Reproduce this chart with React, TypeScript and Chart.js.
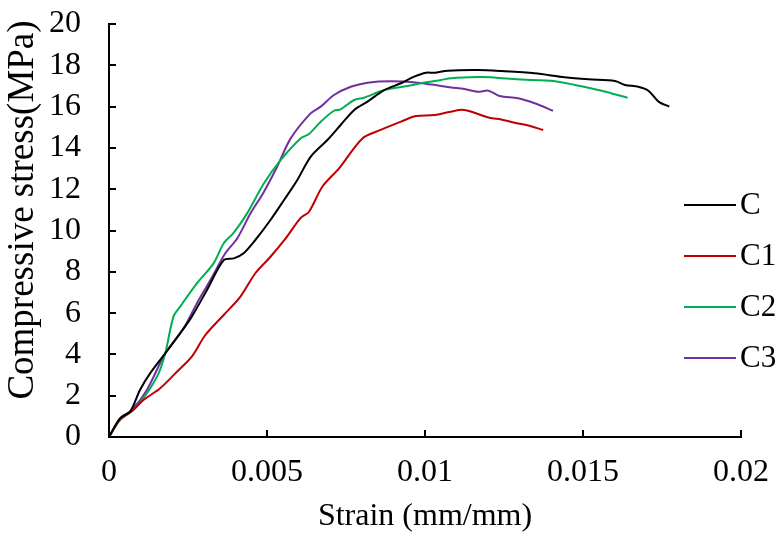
import React, { useEffect, useRef } from "react";
import { Chart, registerables } from "chart.js";

Chart.register(...registerables);

// ---- Data ----
const seriesLabels = ["C", "C1", "C2", "C3"];
const seriesColors = ["#000000", "#C00000", "#00B050", "#7030A0"];

const strainC = [0, 0.00035, 0.00067, 0.00098, 0.0013, 0.00178, 0.00225, 0.00262, 0.0031, 0.00363, 0.00395, 0.00426, 0.00463, 0.00511, 0.00555, 0.00596, 0.00638, 0.00691, 0.00733, 0.00776, 0.00818, 0.00871, 0.00924, 0.00966, 0.01003, 0.0103, 0.01072, 0.01167, 0.01241, 0.01347, 0.01442, 0.01517, 0.01601, 0.01633, 0.01675, 0.01707, 0.01739, 0.01773];
const stressC = [0, 0.9, 1.23, 2.28, 3.08, 4.05, 5.02, 5.83, 7.12, 8.57, 8.65, 8.9, 9.54, 10.51, 11.5, 12.45, 13.57, 14.38, 15.11, 15.84, 16.24, 16.8, 17.13, 17.45, 17.64, 17.64, 17.74, 17.77, 17.72, 17.61, 17.42, 17.32, 17.24, 17.05, 16.96, 16.77, 16.24, 16.0];

const strainC1 = [0, 0.00035, 0.00076, 0.00109, 0.00162, 0.00215, 0.00262, 0.00305, 0.00363, 0.00416, 0.00463, 0.00511, 0.00559, 0.00606, 0.00633, 0.00675, 0.00728, 0.00802, 0.0086, 0.00924, 0.00971, 0.0103, 0.01109, 0.01136, 0.01204, 0.01241, 0.01284, 0.01321, 0.01374];
const stressC1 = [0, 0.85, 1.3, 1.79, 2.36, 3.16, 3.89, 4.94, 5.91, 6.8, 7.93, 8.73, 9.62, 10.6, 10.91, 12.12, 13.01, 14.46, 14.87, 15.27, 15.54, 15.59, 15.84, 15.8, 15.46, 15.38, 15.22, 15.11, 14.87];

const strainC2 = [0, 0.00035, 0.00077, 0.0012, 0.00157, 0.00178, 0.00204, 0.00225, 0.00278, 0.00331, 0.00363, 0.00395, 0.00437, 0.0049, 0.00543, 0.00606, 0.00633, 0.0067, 0.00712, 0.00733, 0.00776, 0.00807, 0.00871, 0.00945, 0.00987, 0.01051, 0.01083, 0.01167, 0.0121, 0.01241, 0.01337, 0.014, 0.01474, 0.01559, 0.01641];
const stressC2 = [0, 0.82, 1.31, 2.12, 3.08, 4.05, 5.83, 6.31, 7.44, 8.41, 9.38, 9.9, 10.83, 12.28, 13.41, 14.46, 14.67, 15.27, 15.8, 15.87, 16.32, 16.43, 16.8, 17.0, 17.13, 17.29, 17.37, 17.43, 17.42, 17.37, 17.29, 17.25, 17.05, 16.77, 16.43];

const strainC3 = [0, 0.00035, 0.00072, 0.0012, 0.00178, 0.00236, 0.00278, 0.00321, 0.00368, 0.00405, 0.00448, 0.0049, 0.00532, 0.00575, 0.00638, 0.0067, 0.00712, 0.00765, 0.00818, 0.00892, 0.00977, 0.01051, 0.01083, 0.01125, 0.01167, 0.01201, 0.01236, 0.01294, 0.01347, 0.01405];
const stressC3 = [0, 0.9, 1.31, 2.28, 4.05, 5.26, 6.47, 7.6, 8.9, 9.6, 10.83, 11.87, 13.09, 14.46, 15.67, 16.0, 16.56, 16.96, 17.16, 17.23, 17.16, 17.0, 16.93, 16.85, 16.72, 16.77, 16.51, 16.4, 16.16, 15.8];

const xTickLabels = ["0", "0.005", "0.01", "0.015", "0.02"];
const xTitle = "Strain (mm/mm)";
const yTitle = "Compressive stress(MPa)";

const strains = [strainC, strainC1, strainC2, strainC3];
const stresses = [stressC, stressC1, stressC2, stressC3];

const FONT = '"Liberation Serif", "Times New Roman", serif';

const overlayPlugin = {
  id: "overlay",
  afterDraw(chart: any) {
    const ctx = chart.ctx;
    ctx.save();
    // legend
    chart.data.datasets.forEach((ds: any, i: number) => {
      const y = 205 + i * 51;
      ctx.strokeStyle = ds.borderColor;
      ctx.lineWidth = 2;
      ctx.beginPath();
      ctx.moveTo(684, y);
      ctx.lineTo(736, y);
      ctx.stroke();
      ctx.fillStyle = "#000";
      ctx.font = `31px ${FONT}`;
      ctx.textAlign = "left";
      ctx.textBaseline = "middle";
      ctx.fillText(ds.label, 740, y + 1);
    });
    // y-axis title
    ctx.translate(23, 210);
    ctx.rotate(-Math.PI / 2);
    ctx.font = `37px ${FONT}`;
    ctx.textAlign = "center";
    ctx.textBaseline = "middle";
    ctx.fillStyle = "#000";
    ctx.fillText(yTitle, 0, 0);
    ctx.restore();
  },
};

export default function App() {
  const ref = useRef<HTMLCanvasElement>(null);
  useEffect(() => {
    if (!ref.current) return;
    const datasets = seriesLabels.map((label, i) => ({
      label,
      data: strains[i].map((x, j) => ({ x, y: stresses[i][j] })),
      borderColor: seriesColors[i],
      backgroundColor: seriesColors[i],
      borderWidth: 2,
      pointRadius: 0,
      tension: 0.3,
      fill: false,
    }));
    const chart = new Chart(ref.current, {
      type: "line",
      data: { datasets },
      options: {
        animation: false,
        responsive: false,
        layout: { padding: { top: 24, right: 40, left: 0, bottom: 0 } },
        plugins: { legend: { display: false }, tooltip: { enabled: false } },
        scales: {
          x: {
            type: "linear",
            min: 0,
            max: 0.02,
            afterFit: (s: any) => {
              s.height = 99;
              s.paddingLeft = 0;
              s.paddingRight = 0;
            },
            border: { display: true, color: "#000", width: 2 },
            grid: { drawOnChartArea: false, drawTicks: true, tickLength: -7, color: "#000", lineWidth: 2 },
            ticks: {
              stepSize: 0.005,
              padding: 23,
              color: "#000",
              autoSkip: false,
              font: { family: FONT, size: 32 },
              maxRotation: 0,
              callback: (_v: any, i: number) => xTickLabels[i],
            },
            title: {
              display: true,
              text: xTitle,
              color: "#000",
              font: { family: FONT, size: 32 },
              padding: { top: 0, bottom: 0 },
            },
          },
          y: {
            min: 0,
            max: 20,
            afterFit: (s: any) => {
              s.width = 109;
              s.paddingTop = 0;
              s.paddingBottom = 0;
            },
            border: { display: true, color: "#000", width: 2 },
            grid: { drawOnChartArea: false, drawTicks: true, tickLength: -7, color: "#000", lineWidth: 2 },
            ticks: {
              stepSize: 2,
              padding: 35,
              color: "#000",
              autoSkip: false,
              font: { family: FONT, size: 32 },
            },
          },
        },
      },
      plugins: [overlayPlugin],
    });
    return () => chart.destroy();
  }, []);
  return (
    <div style={{ position: "absolute", left: 0, top: 0, width: 781, height: 536, background: "#fff" }}>
      <canvas ref={ref} width={781} height={536} style={{ width: 781, height: 536 }} />
    </div>
  );
}
